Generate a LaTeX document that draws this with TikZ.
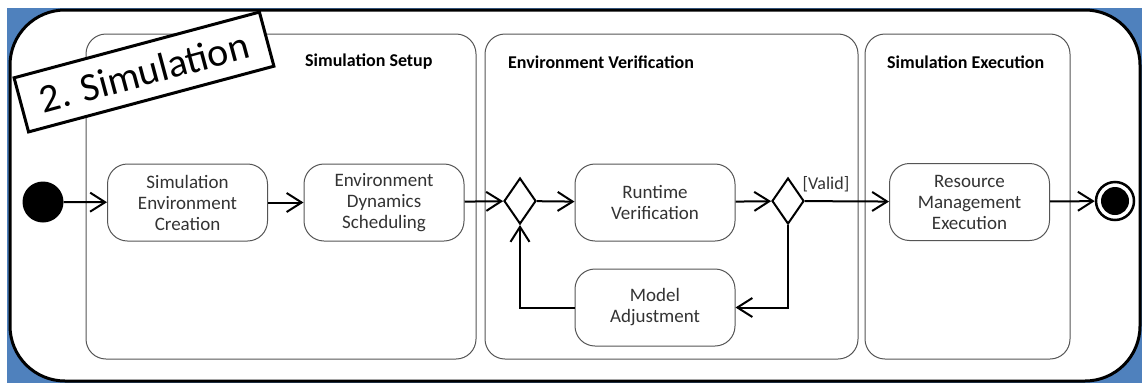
\documentclass[tikz,border=0pt]{standalone}
\usepackage{fontspec}
\setmainfont{Carlito}
\usetikzlibrary{arrows.meta,shapes.geometric,calc}
\definecolor{bgblue}{HTML}{4F81BD}
\definecolor{lanegray}{HTML}{555555}
\definecolor{txtgray}{HTML}{333333}
\begin{document}
\begin{tikzpicture}[x=1pt,y=-1pt,
  lane/.style={draw=lanegray, line width=1pt, rounded corners=20pt},
  lanetitle/.style={font=\fontsize{18}{20}\selectfont\bfseries, anchor=west, text=black, inner sep=0pt},
  act/.style={draw=lanegray, line width=1pt, rounded corners=20pt, minimum width=160pt, minimum height=77pt, align=center, text=txtgray, font=\fontsize{19}{21}\selectfont, inner sep=0pt},
  dec/.style={diamond, draw=black, line width=2pt, minimum width=32pt, minimum height=46pt, inner sep=0pt},
  flow/.style={line width=2pt, -{Straight Barb[length=15pt,width=19pt,line width=2pt]}},
  ]
\useasboundingbox (0,0) rectangle (1142,383);
% background
\fill[bgblue] (7,8) rectangle (1142,383);
\draw[line width=3pt, fill=white, rounded corners=55pt] (10,10) rectangle (1140,381);
% lanes
\draw[lane] (86,34) rectangle (476,359);
\draw[lane] (485,34) rectangle (858,359);
\draw[lane] (865,34) rectangle (1070,359);
\node[lanetitle] (t1) at (305,62) {Simulation Setup};
\node[lanetitle] (t2) at (508,62) {Environment Verification};
\node[lanetitle] (t3) at (887,62) {Simulation Execution};
% title box
\node[draw=black, line width=3pt, fill=white, rotate=15, minimum width=254pt, minimum height=56pt, inner sep=0pt, font=\fontsize{40}{44}\selectfont] (title) at (144,72) {2. Simulation};
% nodes
\node[circle, fill=black, minimum size=41pt, inner sep=0pt] (start) at (43,202) {};
\node[act] (sec) at (187.5,202.5) {Simulation\\Environment\\Creation};
\node[act] (eds) at (384,202.5) {Environment\\Dynamics\\Scheduling};
\node[dec] (dl) at (520,201) {};
\node[act] (rv) at (655,202.5) {Runtime\\Verification};
\node[dec] (dr) at (788,201) {};
\node[act] (ma) at (655,307.5) {Model\\Adjustment};
\node[act] (rme) at (969.5,202) {Resource\\Management\\Execution};
\node[circle, draw=black, line width=2.5pt, fill=white, minimum size=38pt, inner sep=0pt] (end) at (1115,201) {};
\node[circle, fill=black, minimum size=28pt, inner sep=0pt] (endin) at (end) {};
\node[font=\fontsize{18}{20}\selectfont, text=txtgray, inner sep=0pt] (valid) at (826,184) {[Valid]};
% flows
\draw[flow] (start) -- (sec);
\draw[flow] (sec) -- (eds);
\draw[flow] (eds) -- (dl);
\draw[flow] (dl) -- (rv);
\draw[flow] (rv) -- (dr);
\draw[flow] (dr) -- (rme);
\draw[flow] (dr.south) |- (ma.east);
\draw[flow] (ma.west) -| (dl.south);
\draw[flow] (rme) -- (end);
\end{tikzpicture}
\end{document}
